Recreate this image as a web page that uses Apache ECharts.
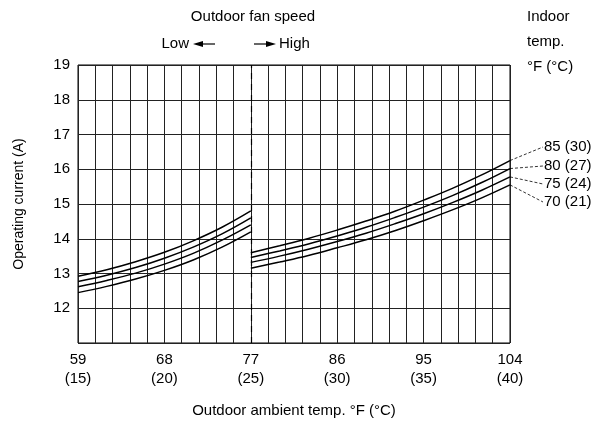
<!DOCTYPE html>
<html><head><meta charset="utf-8">
<script src="https://cdn.jsdelivr.net/npm/echarts@6/dist/echarts.min.js"></script>
<style>html,body{margin:0;padding:0;background:#fff}#c{width:599px;height:421px}</style>
</head><body><div id="c"></div>
<script>
// Outdoor ambient temperature (°F) sample points
const tempLowF  = [59, 62, 65, 68, 71, 74, 77];
const tempHighF = [77, 80, 83, 86, 89, 92, 95, 98, 101, 104];
// Operating current (A) – low fan speed segment
const low85 = [12.92, 13.11, 13.34, 13.61, 13.94, 14.33, 14.80];
const low80 = [12.77, 12.95, 13.17, 13.44, 13.76, 14.14, 14.60];
const low75 = [12.62, 12.80, 13.01, 13.27, 13.58, 13.96, 14.40];
const low70 = [12.45, 12.63, 12.84, 13.09, 13.39, 13.76, 14.20];
// Operating current (A) – high fan speed segment
const high85 = [13.60, 13.80, 14.01, 14.25, 14.51, 14.79, 15.11, 15.45, 15.83, 16.25];
const high80 = [13.46, 13.65, 13.85, 14.08, 14.33, 14.61, 14.91, 15.24, 15.61, 16.02];
const high75 = [13.32, 13.50, 13.70, 13.92, 14.16, 14.43, 14.72, 15.04, 15.39, 15.78];
const high70 = [13.15, 13.33, 13.52, 13.74, 13.97, 14.23, 14.52, 14.83, 15.17, 15.55];
const curveLabels = ['85 (30)', '80 (27)', '75 (24)', '70 (21)'];
const yTicks = [12, 13, 14, 15, 16, 17, 18, 19];

const f2c = f => (f - 32) * 5 / 9;
const pts = (xs, ys) => xs.map((f, i) => [f2c(f), ys[i]]);
const FONT = '"Liberation Sans", Arial, Helvetica, sans-serif';

const lows = [low85, low80, low75, low70];
const highs = [high85, high80, high75, high70];
const series = [];
lows.forEach(d => series.push({type: 'line', data: pts(tempLowF, d), smooth: 0.4, symbol: 'none',
  lineStyle: {color: '#000', width: 1.5}, silent: true}));
highs.forEach(d => series.push({type: 'line', data: pts(tempHighF, d), smooth: 0.4, symbol: 'none',
  lineStyle: {color: '#000', width: 1.5}, silent: true}));
series[0].markLine = {symbol: 'none', silent: true, label: {show: false},
  lineStyle: {color: '#000', type: [6, 5], width: 1.2},
  data: [[{coord: [25, 11]}, {coord: [25, 19]}]]};

const chart = echarts.init(document.getElementById('c'), null, {renderer: 'canvas'});
chart.setOption({
  animation: false,
  textStyle: {fontFamily: FONT},
  grid: {left: 78, right: 89, top: 65, bottom: 78, show: true, borderColor: '#000', borderWidth: 1},
  xAxis: {type: 'value', min: 15, max: 40, interval: 1,
    axisLine: {show: false}, axisTick: {show: false},
    splitLine: {show: true, lineStyle: {color: '#222', width: 1}},
    axisLabel: {color: '#000', fontSize: 15, lineHeight: 19, margin: 7, fontFamily: FONT,
      formatter: v => { const c = Math.round(v); return (Math.abs(v - c) < 1e-6 && c % 5 === 0) ? (Math.round(c * 9 / 5 + 32) + '\n(' + c + ')') : ''; }}},
  yAxis: {type: 'value', min: 11, max: 19, interval: 1,
    axisLine: {show: false}, axisTick: {show: false},
    splitLine: {show: true, lineStyle: {color: '#222', width: 1}},
    axisLabel: {color: '#000', fontSize: 15, margin: 8, fontFamily: FONT,
      formatter: v => yTicks.includes(Math.round(v)) ? String(Math.round(v)) : ''},
    name: 'Operating current (A)', nameLocation: 'middle', nameGap: 52,
    nameTextStyle: {color: '#000', fontSize: 14, fontFamily: FONT}},
  series: series
});

// annotations
const g = [];
const txt = (x, y, s, align) => ({type: 'text', x: x, y: y, style: {text: s, fill: '#000', font: '15px ' + FONT, textAlign: align || 'left', textVerticalAlign: 'middle'}});
g.push(txt(253, 17, 'Outdoor fan speed', 'center'));
g.push(txt(189, 44, 'Low', 'right'));
g.push(txt(279, 44, 'High', 'left'));
// arrows
g.push({type: 'line', shape: {x1: 200, y1: 44, x2: 215, y2: 44}, style: {stroke: '#000', lineWidth: 1.2}});
g.push({type: 'polygon', shape: {points: [[193, 44], [203, 41], [203, 47]]}, style: {fill: '#000'}});
g.push({type: 'line', shape: {x1: 254, y1: 44, x2: 269, y2: 44}, style: {stroke: '#000', lineWidth: 1.2}});
g.push({type: 'polygon', shape: {points: [[276, 44], [266, 41], [266, 47]]}, style: {fill: '#000'}});
g.push(txt(527, 17, 'Indoor'));
g.push(txt(527, 42, 'temp.'));
g.push(txt(527, 67, '°F (°C)'));
g.push(txt(294, 411, 'Outdoor ambient temp. °F (°C)', 'center'));
// curve labels with dashed leaders from curve ends
const labelY = [147, 166, 184, 202];
highs.forEach((d, i) => {
  const p = chart.convertToPixel({gridIndex: 0}, [f2c(tempHighF[tempHighF.length - 1]), d[d.length - 1]]);
  g.push({type: 'line', shape: {x1: p[0], y1: p[1], x2: 543, y2: labelY[i]}, style: {stroke: '#000', lineWidth: 0.8, lineDash: [3, 2]}});
  g.push(txt(544, labelY[i], curveLabels[i]));
});
chart.setOption({graphic: {elements: g}});
</script></body></html>
